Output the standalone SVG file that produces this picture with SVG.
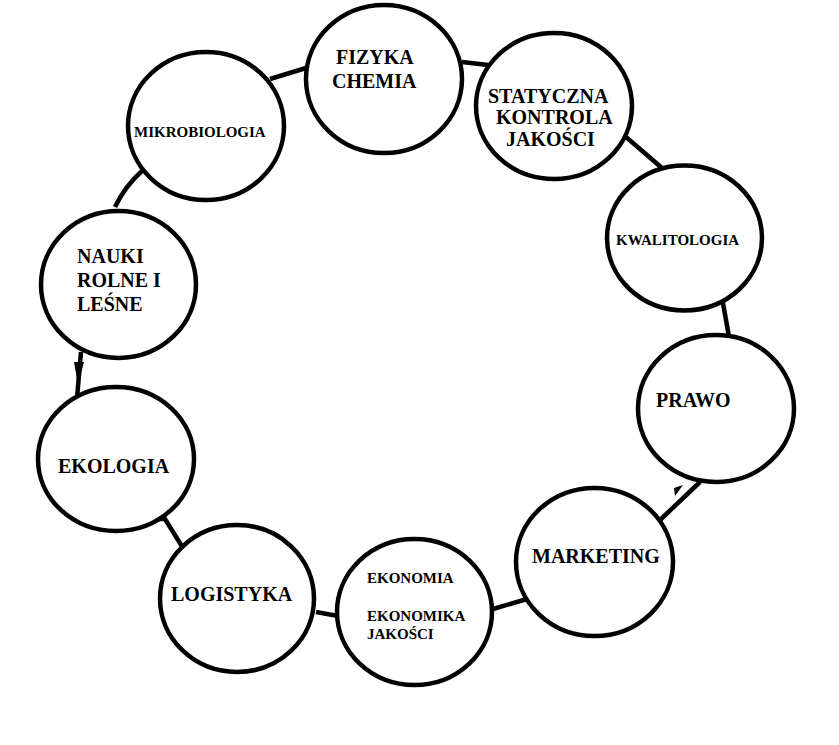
<svg xmlns="http://www.w3.org/2000/svg" width="839" height="745" viewBox="0 0 839 745">
<style>
.n{fill:#fff;stroke:#000;stroke-width:4.5}
.c{stroke:#000;stroke-width:4.5;fill:none;stroke-linecap:butt}
.t{font-family:"Liberation Serif","Times New Roman",serif;font-weight:bold;fill:#000}
.b{font-size:20px}
.s{font-size:15px}
</style>
<rect width="839" height="745" fill="#fff"/>
<g id="connectors">
<line class="c" x1="270" y1="79" x2="306" y2="68"/>
<line class="c" x1="462" y1="62" x2="488" y2="65"/>
<line class="c" x1="626" y1="137" x2="662" y2="168"/>
<line class="c" x1="723" y1="303" x2="729" y2="337"/>
<line class="c" x1="700" y1="482" x2="659" y2="521"/>
<polygon points="674,488 683,485 675,496" fill="#000"/>
<line class="c" x1="493" y1="609" x2="527" y2="599"/>
<line class="c" x1="316" y1="612" x2="338" y2="616"/>
<polyline class="c" points="156,519 165,519 183,548"/>
<line class="c" x1="81" y1="352" x2="77" y2="398"/>
<polygon points="74,362 84,362 78,385" fill="#000"/>
<path class="c" d="M143,170 Q125,186 115,207"/>
</g>
<g id="fizyka">
<ellipse class="n" cx="384" cy="79" rx="78" ry="74"/>
<text class="t b" x="336" y="64">FIZYKA</text>
<text class="t b" x="332" y="88">CHEMIA</text>
</g>
<g id="statyczna">
<ellipse class="n" cx="554" cy="106" rx="78" ry="73"/>
<text class="t b" x="488" y="103">STATYCZNA</text>
<text class="t b" x="496" y="124">KONTROLA</text>
<text class="t b" x="506" y="146">JAKOŚCI</text>
</g>
<g id="kwalitologia">
<ellipse class="n" cx="684.5" cy="238" rx="77.5" ry="72.5"/>
<text class="t s" x="616" y="245">KWALITOLOGIA</text>
</g>
<g id="prawo">
<ellipse class="n" cx="716" cy="408.5" rx="78" ry="73.5"/>
<text class="t b" x="656" y="407">PRAWO</text>
</g>
<g id="marketing">
<ellipse class="n" cx="594.5" cy="562" rx="78.5" ry="74"/>
<text class="t b" x="532" y="563">MARKETING</text>
</g>
<g id="ekonomia">
<ellipse class="n" cx="414.5" cy="612" rx="77.5" ry="73"/>
<text class="t s" x="367" y="583">EKONOMIA</text>
<text class="t s" x="367" y="621">EKONOMIKA</text>
<text class="t s" x="367" y="639">JAKOŚCI</text>
</g>
<g id="logistyka">
<ellipse class="n" cx="237" cy="598.5" rx="77" ry="73.5"/>
<text class="t b" x="171" y="601">LOGISTYKA</text>
</g>
<g id="ekologia">
<ellipse class="n" cx="116" cy="459" rx="78" ry="72"/>
<text class="t b" x="58" y="473">EKOLOGIA</text>
</g>
<g id="nauki">
<ellipse class="n" cx="118.5" cy="284.5" rx="77.5" ry="73.5"/>
<text class="t b" x="77" y="263">NAUKI</text>
<text class="t b" x="77" y="287">ROLNE I</text>
<text class="t b" x="77" y="311">LEŚNE</text>
</g>
<g id="mikrobiologia">
<ellipse class="n" cx="206" cy="126" rx="78" ry="74"/>
<text class="t s" x="134" y="137">MIKROBIOLOGIA</text>
</g>
</svg>
